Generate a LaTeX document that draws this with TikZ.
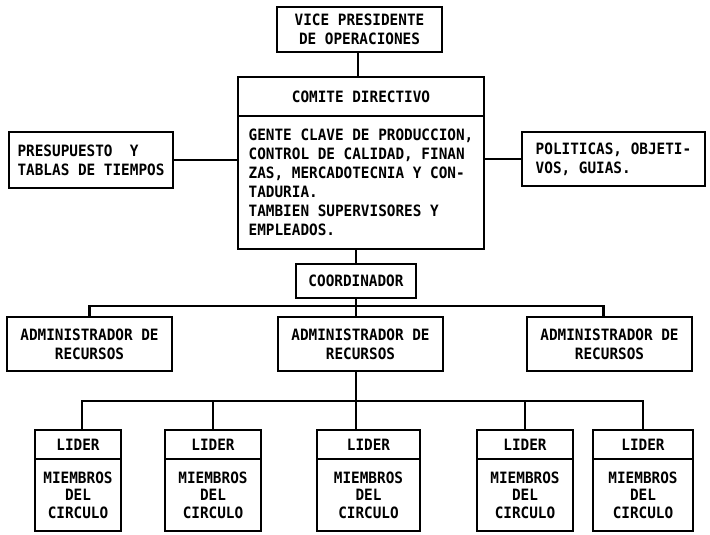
\documentclass[tikz,border=0pt]{standalone}
\usepackage{fontspec}
\setmainfont{DejaVu Sans Mono}[FakeStretch=0.92]
\begin{document}
\begin{tikzpicture}[x=1pt,y=-1pt,
  txt/.style={font=\fontsize{15.6}{19}\selectfont\bfseries},
  box/.style={draw, line width=2.2pt, inner sep=0pt, txt},
  conn/.style={line width=2.2pt},
  admbox/.style={box, minimum width=165pt, minimum height=54pt, align=center},
  lidbox/.style={box, minimum height=29pt},
  membox/.style={box, minimum height=72pt, align=center, font=\fontsize{15.6}{17.5}\selectfont\bfseries}
]
\fill[white] (0,0) rectangle (710,535);
\useasboundingbox (0,0) rectangle (710,535);

% top of the chart
\node[box, minimum width=165pt, minimum height=45pt, align=center] (vp) at (359.5,29.5)
  {VICE PRESIDENTE\\DE OPERACIONES};
\node[box, minimum width=246pt, minimum height=39pt] (comH) at (361,96.5) {COMITE DIRECTIVO};
\node[box, minimum width=246pt, minimum height=133pt, align=left] (comB) at (361,182.5)
  {GENTE CLAVE DE PRODUCCION,\\CONTROL DE CALIDAD, FINAN\\ZAS, MERCADOTECNIA Y CON-\\TADURIA.\\TAMBIEN SUPERVISORES Y\\EMPLEADOS.};
\node[box, minimum width=164pt, minimum height=56pt, align=left] (pres) at (91,160)
  {PRESUPUESTO~~Y\\TABLAS DE TIEMPOS};
\node[box, minimum width=183pt, minimum height=54pt, align=left] (pol) at (613.5,159)
  {POLITICAS, OBJETI-\\VOS, GUIAS.};

% coordinator and resource managers
\node[box, minimum width=120pt, minimum height=34pt] (coord) at (356,281) {COORDINADOR};
\node[admbox] (admL) at (89.5,344) {ADMINISTRADOR DE\\RECURSOS};
\node[admbox] (admC) at (360.5,344) {ADMINISTRADOR DE\\RECURSOS};
\node[admbox] (admR) at (609.5,344) {ADMINISTRADOR DE\\RECURSOS};

% circle leaders and members
\foreach \n/\l/\r in {1/35/121, 2/165/261, 3/317/420, 4/477/573, 5/593/693}{
  \node[lidbox, minimum width={\r-\l}] (lid\n) at ({(\l+\r)/2},444.5) {LIDER};
  \node[membox, minimum width={\r-\l}] (mem\n) at ({(\l+\r)/2},495) {MIEMBROS\\DEL\\CIRCULO};
}

% connectors
\coordinate (bus1) at (357,306);
\coordinate (bus2) at (357,401);
\draw[conn] (vp.south -| 358,0) -- (comH.north -| 358,0);
\draw[conn] (pres.east) -- (pres.east -| comB.west);
\draw[conn] (comB.east |- pol.west) -- (pol.west);
\draw[conn] (comB.south -| coord.north) -- (coord.north);
\draw[conn] (coord.south) -- (coord.south |- admC.north);
\draw[conn] (admL.north) |- (bus1) -| ([xshift=-6pt]admR.north);
\draw[conn] (admC.south -| coord.south) -- (coord.south |- lid3.north);
\draw[conn] ([xshift=4pt]lid1.north) |- (bus2) -| (lid5.north);
\draw[conn] (lid2.north) -- (lid2.north |- bus2);
\draw[conn] (lid4.north) -- (lid4.north |- bus2);
\end{tikzpicture}
\end{document}
